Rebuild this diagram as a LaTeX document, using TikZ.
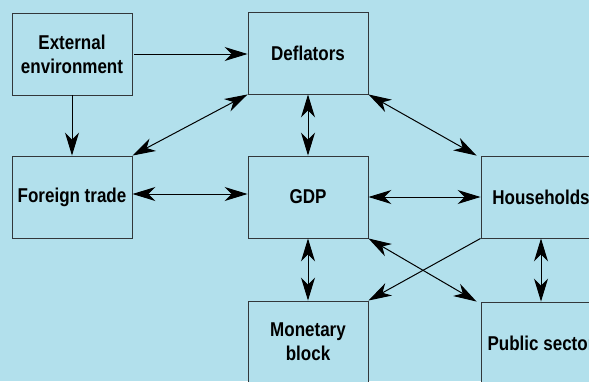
\documentclass[tikz,border=0pt]{standalone}
\usepackage{fontspec}
\newfontfamily\lab[FakeStretch=0.85]{Liberation Sans Bold}
\usetikzlibrary{arrows.meta}
\definecolor{bg}{RGB}{178,224,236}
\definecolor{edge}{RGB}{50,55,58}
\begin{document}
\begin{tikzpicture}[x=1pt,y=-1pt,
  box/.style={draw=edge,line width=0.9pt,fill=bg,minimum width=120pt,minimum height=82pt,inner sep=0pt,align=center,font=\lab\fontsize{20pt}{24pt}\selectfont},
  tip/.tip={Stealth[length=23pt,width=14pt,inset=7pt]},
  con/.style={line width=1pt,-tip},
  dcon/.style={line width=1pt,tip-tip}]
\useasboundingbox (0,0) rectangle (589,381);
\clip (0,0) rectangle (589,381);
\fill[bg] (0,0) rectangle (589,381);
\node[box] (ext) at (72,54) {External\\environment};
\node[box] (def) at (308,53) {Deflators};
\node[box] (ft) at (72,197) {Foreign trade};
\node[box] (gdp) at (308,197) {GDP};
\node[box] (hh) at (541,197) {Households};
\node[box] (mon) at (308,342) {Monetary\\block};
\node[box] (pub) at (541,343) {Public sector};
\draw[con] ([xshift=2pt]ext.east) -- (def.west |- ext.east);
\draw[con] (ext.south) -- (ft.north);
\draw[dcon] (def.south west) -- (ft.north east);
\draw[dcon] (def.south) -- (gdp.north);
\draw[dcon] (def.south east) -- ([xshift=-4pt]hh.north west);
\draw[dcon] ([yshift=3pt]ft.east) -- ([yshift=3pt]gdp.west);
\draw[dcon] (gdp.east) -- (hh.west);
\draw[dcon] (gdp.south) -- (mon.north);
\draw[dcon] (gdp.south east) -- ([xshift=-4pt]pub.north west);
\draw[con] (hh.south west) -- (mon.north east);
\draw[dcon] (hh.south) -- (pub.north);
\end{tikzpicture}
\end{document}
